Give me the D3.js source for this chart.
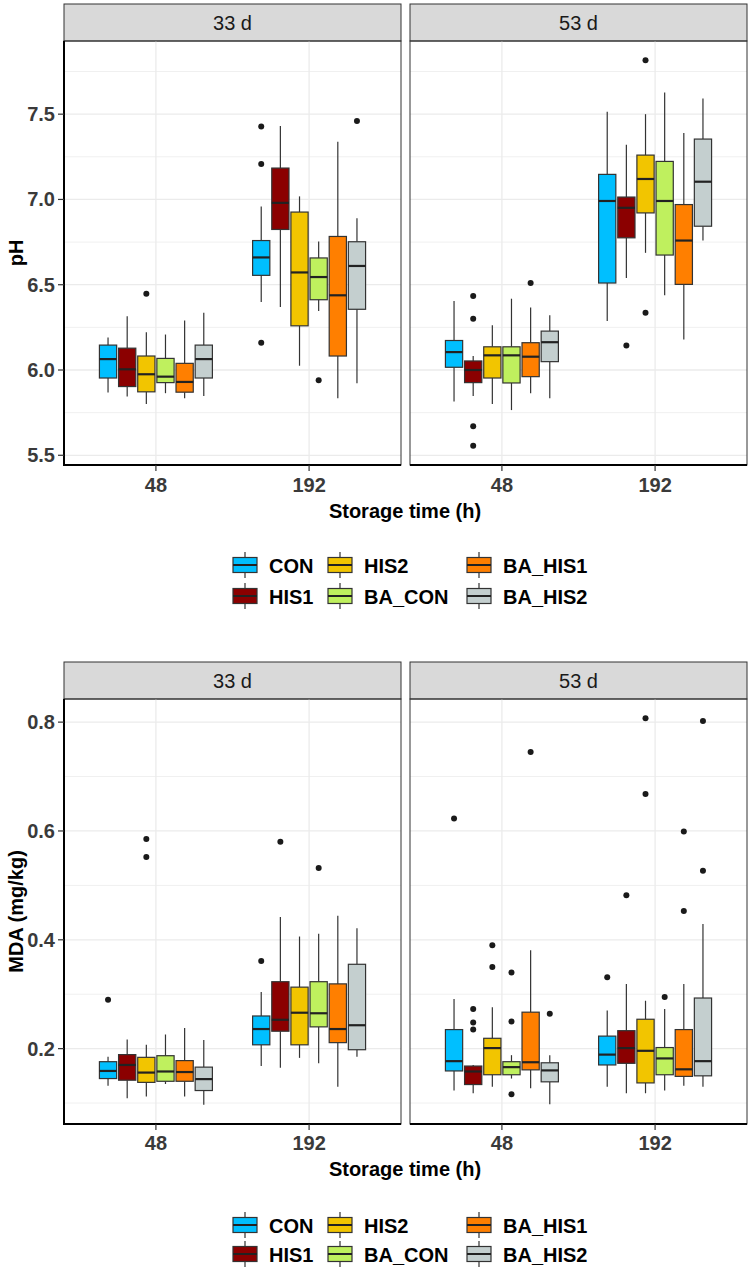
<!DOCTYPE html>
<html><head><meta charset="utf-8">
<script src="https://cdn.jsdelivr.net/npm/d3@7"></script>
<style>body{margin:0;background:#fff} text{font-family:"Liberation Sans",Arial,sans-serif}</style>
</head><body><svg id="c" width="750" height="1270"></svg>
<script>
const groups = ["CON","HIS1","HIS2","BA_CON","BA_HIS1","BA_HIS2"];
const colors = ["#00BFFF","#8B0000","#F2C500","#BFF05E","#FF7F00","#C4CFCF"];
const days = ["33 d","53 d"];
const times = ["48","192"];
const phTicks = [5.5,6.0,6.5,7.0,7.5];
const phMinor = [5.75,6.25,6.75,7.25,7.75];
const mdaTicks = [0.2,0.4,0.6,0.8];
const mdaMinor = [0.1,0.3,0.5,0.7];

// each row: [lower whisker, Q1, median, Q3, upper whisker], one per group
const ph33_48 = [[5.868,5.953,6.064,6.146,6.19],[5.844,5.903,6.004,6.128,6.315],[5.80,5.872,5.975,6.082,6.222],[5.864,5.926,5.961,6.068,6.208],[5.835,5.87,5.93,6.039,6.29],[5.848,5.953,6.064,6.146,6.336]];
const ph33_192 = [[6.399,6.555,6.66,6.759,6.958],[6.37,6.824,6.98,7.184,7.43],[6.025,6.259,6.572,6.926,7.018],[6.346,6.412,6.545,6.657,6.753],[5.835,6.082,6.438,6.783,7.338],[5.922,6.356,6.61,6.752,6.89]];
const ph53_48 = [[5.815,6.016,6.105,6.173,6.405],[5.848,5.926,6.0,6.053,6.082],[5.80,5.953,6.086,6.136,6.263],[5.765,5.924,6.086,6.136,6.418],[5.864,5.961,6.078,6.16,6.366],[5.835,6.049,6.163,6.228,6.321]];
const ph53_192 = [[6.288,6.51,6.991,7.147,7.514],[6.539,6.775,6.951,7.014,7.32],[6.687,6.921,7.12,7.26,7.5],[6.438,6.674,6.991,7.223,7.627],[6.179,6.502,6.759,6.97,7.39],[6.759,6.843,7.104,7.354,7.592]];
const ph33_48_out = [[],[],[6.447],[],[],[]];
const ph33_192_out = [[7.428,7.208,6.16],[],[],[5.94],[],[7.46]];
const ph53_48_out = [[],[6.434,6.30,5.67,5.556],[],[],[6.51],[]];
const ph53_192_out = [[],[6.144],[7.816,6.335],[],[],[]];

const mda33_48 = [[0.132,0.145,0.159,0.176,0.185],[0.109,0.142,0.170,0.189,0.217],[0.112,0.138,0.156,0.184,0.207],[0.135,0.140,0.158,0.187,0.226],[0.112,0.140,0.157,0.178,0.238],[0.097,0.123,0.144,0.166,0.216]];
const mda33_192 = [[0.168,0.207,0.236,0.260,0.304],[0.165,0.232,0.253,0.323,0.442],[0.183,0.207,0.266,0.313,0.406],[0.173,0.240,0.265,0.323,0.411],[0.130,0.211,0.236,0.319,0.444],[0.185,0.198,0.243,0.355,0.421]];
const mda53_48 = [[0.123,0.159,0.177,0.235,0.291],[0.118,0.134,0.158,0.168,0.170],[0.130,0.152,0.201,0.219,0.276],[0.145,0.152,0.166,0.176,0.188],[0.127,0.161,0.175,0.267,0.381],[0.098,0.139,0.160,0.174,0.188]];
const mda53_192 = [[0.130,0.170,0.189,0.223,0.270],[0.118,0.173,0.201,0.233,0.319],[0.118,0.137,0.196,0.254,0.288],[0.123,0.152,0.182,0.202,0.273],[0.132,0.149,0.162,0.235,0.319],[0.130,0.150,0.177,0.293,0.429]];
const mda33_48_out = [[0.290],[],[0.585,0.552],[],[],[]];
const mda33_192_out = [[0.361],[0.580],[],[0.532],[],[]];
const mda53_48_out = [[0.623],[0.273,0.248,0.235],[0.390,0.350],[0.340,0.250,0.116],[0.745],[0.264]];
const mda53_192_out = [[0.331],[0.482],[0.807,0.668],[0.295],[0.599,0.453],[0.802,0.527]];

const svg = d3.select("#c");
const panelsX = [[64,401],[410,747]];
const FS = 20;

function drawChart(cfg){
  const {top, stripH, panelBottom, domain, ticks, minor, title, data, outs, tickY, titleY, legY, legGap} = cfg;
  const pTop = top + stripH;
  const y = d3.scaleLinear().domain(domain).range([panelBottom, pTop]);
  days.forEach((day, di) => {
    const [x0, x1] = panelsX[di];
    const x = d3.scalePoint().domain(times).range([x0, x1]).padding(0.6);
    const step = x.step();
    const dodge = d3.scaleBand().domain(groups).range([-0.375*step, 0.375*step]).paddingInner(0.1).paddingOuter(0.05);
    const g = svg.append("g");
    // strip
    g.append("rect").attr("x", x0).attr("y", top).attr("width", x1-x0).attr("height", stripH)
      .attr("fill", "#D9D9D9").attr("stroke", "#333").attr("stroke-width", 1);
    g.append("text").attr("x", (x0+x1)/2).attr("y", top + stripH/2 + 7).attr("text-anchor","middle")
      .attr("font-size", FS).attr("fill", "#1A1A1A").text(day);
    // grid
    g.selectAll(".mn").data(minor).join("line").attr("x1", x0).attr("x2", x1)
      .attr("y1", d=>y(d)).attr("y2", d=>y(d)).attr("stroke", "#F0F0F0").attr("stroke-width", 1);
    g.selectAll(".mj").data(ticks).join("line").attr("x1", x0).attr("x2", x1)
      .attr("y1", d=>y(d)).attr("y2", d=>y(d)).attr("stroke", "#EBEBEB").attr("stroke-width", 1.3);
    g.selectAll(".vx").data(times).join("line").attr("x1", d=>x(d)).attr("x2", d=>x(d))
      .attr("y1", pTop).attr("y2", panelBottom).attr("stroke", "#EBEBEB").attr("stroke-width", 1.3);
    // boxes
    times.forEach((t, ti) => {
      const stats = data[di][ti];
      const outl = outs[di][ti];
      groups.forEach((grp, gi) => {
        const s = stats[gi];
        const bx = x(t) + dodge(grp);
        const bw = dodge.bandwidth();
        const cx = bx + bw/2;
        g.append("line").attr("x1", cx).attr("x2", cx).attr("y1", y(s[0])).attr("y2", y(s[1]))
          .attr("stroke", "#333").attr("stroke-width", 1.2);
        g.append("line").attr("x1", cx).attr("x2", cx).attr("y1", y(s[3])).attr("y2", y(s[4]))
          .attr("stroke", "#333").attr("stroke-width", 1.2);
        g.append("rect").attr("x", bx).attr("y", y(s[3])).attr("width", bw).attr("height", y(s[1]) - y(s[3]))
          .attr("fill", colors[gi]).attr("stroke", "#333").attr("stroke-width", 1.2);
        g.append("line").attr("x1", bx).attr("x2", bx+bw).attr("y1", y(s[2])).attr("y2", y(s[2]))
          .attr("stroke", "#222").attr("stroke-width", 2.2);
        outl[gi].forEach(v => {
          g.append("circle").attr("cx", cx).attr("cy", y(v)).attr("r", 3).attr("fill", "#1A1A1A");
        });
      });
    });
    // border
    g.append("rect").attr("x", x0).attr("y", pTop).attr("width", x1-x0).attr("height", panelBottom-pTop)
      .attr("fill", "none").attr("stroke", "#333").attr("stroke-width", 1);
    // bottom axis line
    g.append("line").attr("x1", x0).attr("x2", x1).attr("y1", panelBottom).attr("y2", panelBottom)
      .attr("stroke", "#000").attr("stroke-width", 2);
    // x ticks
    times.forEach(t => {
      g.append("line").attr("x1", x(t)).attr("x2", x(t)).attr("y1", panelBottom).attr("y2", panelBottom+6)
        .attr("stroke", "#333").attr("stroke-width", 1.2);
      g.append("text").attr("x", x(t)).attr("y", tickY).attr("text-anchor","middle")
        .attr("font-size", FS).attr("font-weight","bold").attr("fill","#3A3A3A").text(t);
    });
    if (di === 0) {
      g.append("line").attr("x1", x0).attr("x2", x0).attr("y1", pTop).attr("y2", panelBottom+1)
        .attr("stroke", "#000").attr("stroke-width", 2);
      ticks.forEach(v => {
        g.append("line").attr("x1", x0-6).attr("x2", x0).attr("y1", y(v)).attr("y2", y(v))
          .attr("stroke", "#333").attr("stroke-width", 1.2);
        g.append("text").attr("x", x0-9).attr("y", y(v)+7).attr("text-anchor","end")
          .attr("font-size", FS).attr("font-weight","bold").attr("fill","#3A3A3A").text(d3.format(".1f")(v));
      });
    }
  });
  // axis titles
  svg.append("text").attr("x", 405).attr("y", titleY).attr("text-anchor","middle")
    .attr("font-size", FS).attr("font-weight","bold").attr("fill","#000").text("Storage time (h)");
  const cy = (pTop + panelBottom)/2;
  svg.append("text").attr("transform", `translate(23,${cy}) rotate(-90)`).attr("text-anchor","middle")
    .attr("font-size", FS).attr("font-weight","bold").attr("fill","#000").text(title);
  // legend
  const colX = [233, 328, 467];
  groups.forEach((grp, gi) => {
    const col = Math.floor(gi/2), row = gi % 2;
    const kx = colX[col], ky = legY + row*legGap;
    const lg = svg.append("g");
    lg.append("line").attr("x1", kx+12).attr("x2", kx+12).attr("y1", ky-13).attr("y2", ky+13)
      .attr("stroke", "#333").attr("stroke-width", 1.2);
    lg.append("rect").attr("x", kx).attr("y", ky-7.5).attr("width", 24).attr("height", 15)
      .attr("fill", colors[gi]).attr("stroke", "#333").attr("stroke-width", 1.2);
    lg.append("line").attr("x1", kx).attr("x2", kx+24).attr("y1", ky).attr("y2", ky)
      .attr("stroke", "#222").attr("stroke-width", 2);
    lg.append("text").attr("x", kx+36).attr("y", ky+7.5).attr("font-size", FS).attr("font-weight","bold")
      .attr("fill","#000").text(grp);
  });
}

drawChart({top:4, stripH:37, panelBottom:465, domain:[5.443,7.929], ticks:phTicks, minor:phMinor, title:"pH",
  data:[[ph33_48, ph33_192],[ph53_48, ph53_192]], outs:[[ph33_48_out, ph33_192_out],[ph53_48_out, ph53_192_out]],
  tickY:492, titleY:518, legY:565, legGap:31});
drawChart({top:662, stripH:37, panelBottom:1124, domain:[0.0615,0.8425], ticks:mdaTicks, minor:mdaMinor, title:"MDA (mg/kg)",
  data:[[mda33_48, mda33_192],[mda53_48, mda53_192]], outs:[[mda33_48_out, mda33_192_out],[mda53_48_out, mda53_192_out]],
  tickY:1150, titleY:1176, legY:1225, legGap:29});
</script></body></html>
